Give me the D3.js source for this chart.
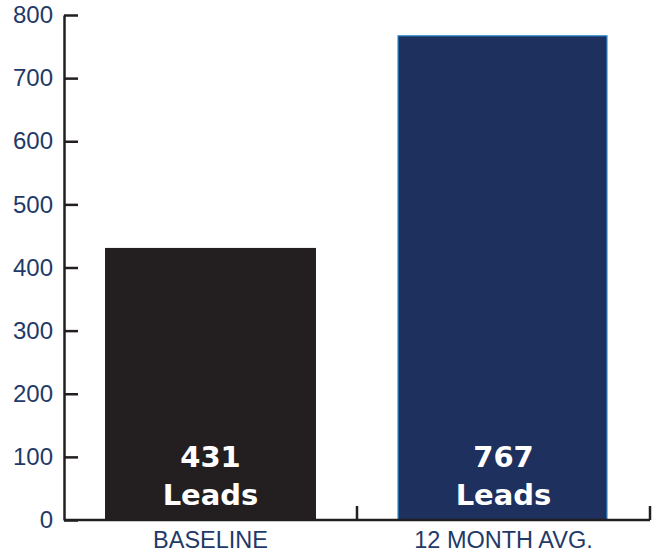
<!DOCTYPE html>
<html>
<head>
<meta charset="utf-8">
<script src="https://cdn.jsdelivr.net/npm/d3@7"></script>
<style>
  html, body { margin: 0; padding: 0; background: #fff; }
  svg { display: block; }
</style>
</head>
<body>
<div id="chart"></div>
<script>
// data
const categories = ["BASELINE", "12 MONTH AVG."];
const leads = [431, 767];
const yTicks = [0, 100, 200, 300, 400, 500, 600, 700, 800];

const width = 652;
const height = 555;
const margin = { left: 64, right: 2, top: 15, bottom: 35 };
const contentsWidth = width - margin.left - margin.right;
const contentsHeight = height - margin.top - margin.bottom;

const INK = "#231f20";
const NAVY = "#1f3a68";

const svg = d3.select("#chart").append("svg")
    .attr("width", width)
    .attr("height", height);

const contentsG = svg.append("g")
    .attr("class", "chart-contents")
    .attr("transform", `translate(${margin.left}, ${margin.top})`);

const x = d3.scaleBand()
    .domain(categories)
    .range([0, contentsWidth])
    .paddingInner(0.28)
    .paddingOuter(0.14);

const y = d3.scaleLinear()
    .domain([0, 800])
    .range([contentsHeight, 0]);

//bars
contentsG.selectAll("rect.bar")
    .data(categories.map((c, i) => ({ key: c, value: leads[i], i })))
    .enter()
    .append("rect")
        .attr("class", "bar")
        .attr("x", d => x(d.key))
        .attr("y", d => y(d.value))
        .attr("width", d => d.i === 0 ? x.bandwidth() : x.bandwidth() - 2)
        .attr("height", d => y(0) - y(d.value))
        .attr("fill", d => d.i === 0 ? INK : "#1e305e")
        .attr("stroke", d => d.i === 0 ? "none" : "#2a8ad0")
        .attr("stroke-width", 1.2);

//bar labels
const labelG = contentsG.selectAll("g.bar-label")
    .data(categories.map((c, i) => ({ key: c, value: leads[i] })))
    .enter()
    .append("g")
        .attr("class", "bar-label")
        .attr("transform", d => `translate(${x(d.key) + x.bandwidth() / 2}, ${y(0)})`)
        .attr("text-anchor", "middle")
        .attr("fill", "#fff")
        .attr("font-family", "'DejaVu Sans', sans-serif")
        .attr("font-weight", "bold")
        .attr("font-size", 29);

labelG.append("text").attr("y", -53).text(d => d.value);
labelG.append("text").attr("y", -15).text("Leads");

//y axis
const yAxisG = contentsG.append("g")
    .attr("class", "axis y-axis")
    .call(d3.axisLeft(y).tickValues(yTicks).tickSizeInner(-14).tickSizeOuter(0).tickPadding(11));

//x axis
const xAxisG = contentsG.append("g")
    .attr("class", "axis x-axis")
    .attr("transform", `translate(0, ${contentsHeight})`)
    .call(d3.axisBottom(x).tickSize(0).tickPadding(11));

xAxisG.select("path.domain").remove();
xAxisG.append("line")
    .attr("x1", 0)
    .attr("x2", contentsWidth)
    .attr("stroke", INK);

// separator ticks at the end of each band
const sepX = d => x(d) + x.bandwidth() + x.step() * x.paddingInner() / 2;
xAxisG.selectAll("line.sep")
    .data(categories)
    .enter()
    .append("line")
        .attr("class", "sep")
        .attr("x1", sepX)
        .attr("x2", sepX)
        .attr("y1", 0)
        .attr("y2", -14)
        .attr("stroke", INK);

contentsG.selectAll(".axis path, .axis line")
    .attr("stroke", INK)
    .attr("stroke-width", 2.5);

yAxisG.selectAll("text")
    .attr("fill", NAVY)
    .attr("font-family", "'Liberation Sans', sans-serif")
    .attr("font-size", 24);

xAxisG.selectAll("text")
    .attr("fill", NAVY)
    .attr("font-family", "'Liberation Sans Narrow', sans-serif")
    .attr("font-size", 23.5);
</script>
</body>
</html>
